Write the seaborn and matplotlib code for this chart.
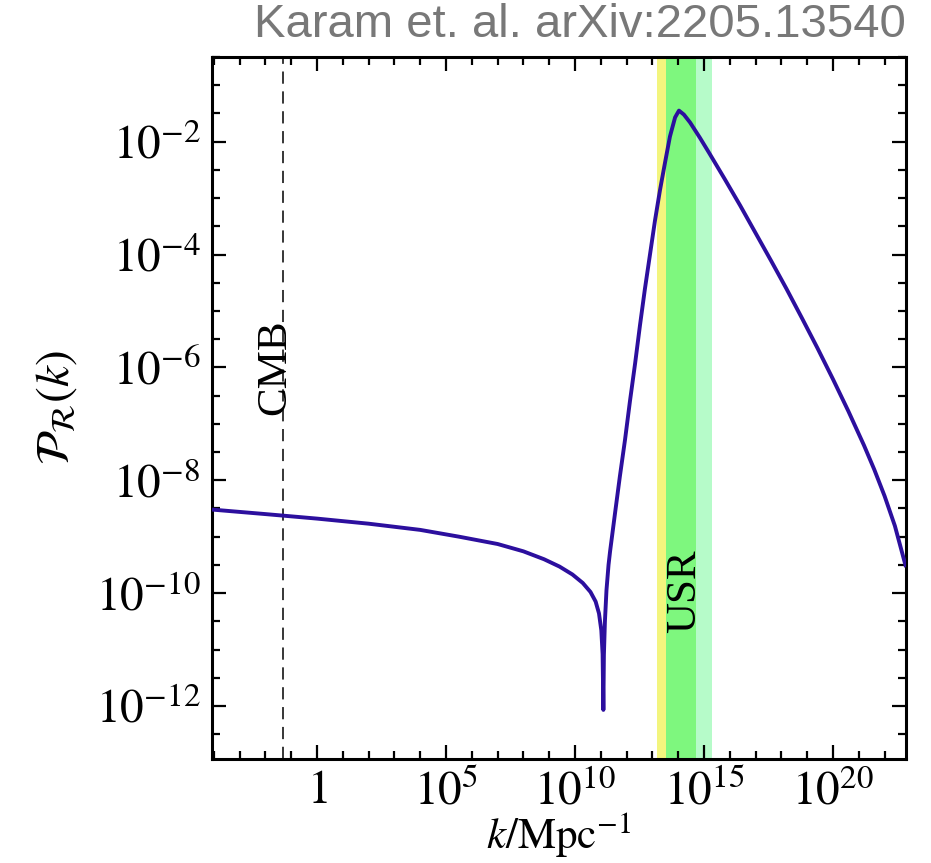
import numpy as np
import pandas as pd
import matplotlib
matplotlib.use("Agg")
import matplotlib.pyplot as plt
import seaborn as sns
from matplotlib.ticker import FixedLocator, NullFormatter

# ---- data (log10 values) ----
log_k = [-4.07, -2.0, 0.0, 2.0, 4.0, 5.5, 7.0, 8.0, 8.8, 9.4, 9.9, 10.3, 10.6, 10.8,
         10.93, 11.02, 11.07, 11.10, 11.12, 11.16, 11.22, 11.30, 11.36, 11.55, 11.74,
         11.94, 12.13, 12.33, 12.52, 12.71, 12.91, 13.10, 13.29, 13.49, 13.68, 13.88,
         14.03, 14.22, 14.46, 14.84, 15.2, 15.8, 16.4, 17.0, 17.6, 18.2, 18.8, 19.4,
         20.0, 20.6, 21.2, 21.6, 22.0, 22.4, 22.83]
log_P = [-8.52, -8.60, -8.68, -8.77, -8.88, -9.00, -9.13, -9.26, -9.40, -9.53, -9.67,
         -9.82, -9.98, -10.15, -10.36, -10.66, -11.08, -12.07, -11.10, -10.50, -9.95,
         -9.50, -9.26, -8.59, -7.93, -7.28, -6.60, -5.93, -5.25, -4.61, -3.99, -3.40,
         -2.87, -2.37, -1.91, -1.57, -1.45, -1.52, -1.66, -1.93, -2.20, -2.66, -3.13,
         -3.62, -4.11, -4.61, -5.13, -5.66, -6.21, -6.78, -7.38, -7.81, -8.28, -8.81,
         -9.54]

k_cmb = 0.05
band_yellow = [13.16, 13.51]   # log10 k
band_green = [13.51, 14.70]
band_light = [14.70, 15.30]

x_major = [1, 1e5, 1e10, 1e15, 1e20]
x_major_labels = [r"$1$", r"$10^{5}$", r"$10^{10}$", r"$10^{15}$", r"$10^{20}$"]
y_major = [1e-12, 1e-10, 1e-8, 1e-6, 1e-4, 1e-2]
y_major_labels = [r"$10^{-12}$", r"$10^{-10}$", r"$10^{-8}$", r"$10^{-6}$",
                  r"$10^{-4}$", r"$10^{-2}$"]

df = pd.DataFrame({"k": np.power(10.0, log_k), "P": np.power(10.0, log_P)})

sns.set_theme(style="ticks")
plt.rcParams["font.family"] = ["Liberation Serif", "DejaVu Serif"]
plt.rcParams["mathtext.fontset"] = "stix"
plt.rcParams["text.color"] = "black"
plt.rcParams["axes.labelcolor"] = "black"
plt.rcParams["xtick.color"] = "black"
plt.rcParams["ytick.color"] = "black"

fig = plt.figure(figsize=(9.31, 8.63), dpi=100)
ax = fig.add_axes([212 / 931, 1 - 759 / 863, 694 / 931, 702 / 863])

ax.set_xscale("log")
ax.set_yscale("log")

# bands
ax.axvspan(10 ** band_yellow[0], 10 ** band_yellow[1], color="#f3f57e", lw=0, zorder=0)
ax.axvspan(10 ** band_green[0], 10 ** band_green[1], color="#7ef77e", lw=0, zorder=0)
ax.axvspan(10 ** band_light[0], 10 ** band_light[1], color="#b6fbc9", lw=0, zorder=0)

ax.axvline(k_cmb, color="black", lw=1.1, ls=(0, (8, 5)), zorder=1)

sns.lineplot(data=df, x="k", y="P", ax=ax, color="#2c0f9e", lw=2.8,
             sort=False, estimator=None, zorder=3)
for ln in ax.get_lines():
    ln.set_solid_joinstyle("round")
    ln.set_solid_capstyle("butt")

ax.set_xlim(10 ** -4.07, 10 ** 22.83)
ax.set_ylim(10 ** -12.94, 10 ** -0.5)

ax.xaxis.set_major_locator(FixedLocator(x_major))
ax.set_xticklabels(x_major_labels)
ax.xaxis.set_minor_locator(FixedLocator([10.0 ** e for e in range(-4, 23) if e % 5 != 0]))
ax.xaxis.set_minor_formatter(NullFormatter())
ax.yaxis.set_major_locator(FixedLocator(y_major))
ax.set_yticklabels(y_major_labels)
ax.yaxis.set_minor_locator(FixedLocator([10.0 ** (e / 2) for e in range(-26, 0) if e % 4 != 0]))
ax.yaxis.set_minor_formatter(NullFormatter())

ax.tick_params(which="both", direction="in", top=True, right=True, width=1.6, colors="black")
ax.tick_params(which="major", length=10, labelsize=34, pad=8)
ax.tick_params(which="minor", length=6)
for s in ax.spines.values():
    s.set_linewidth(2.2)
    s.set_color("black")

ax.set_xlabel(r"$k/\mathrm{Mpc}^{-1}$", fontsize=31, labelpad=-3)
ax.set_ylabel(r"$\mathcal{P}_{\mathcal{R}}(k)$", fontsize=34, labelpad=12)

ax.text(0.0235, 10 ** -6.0, "CMB", rotation=90, fontsize=31, ha="center", va="center")
ax.text(10 ** 14.25, 10 ** -9.97, "USR", rotation=90, fontsize=31, ha="center", va="center")

fig.text(906 / 931, 1 - 25 / 863, "Karam et. al. arXiv:2205.13540", ha="right", va="center",
         fontsize=34, color="#787878", family="Liberation Sans")

fig.savefig("out.png", dpi=100)
